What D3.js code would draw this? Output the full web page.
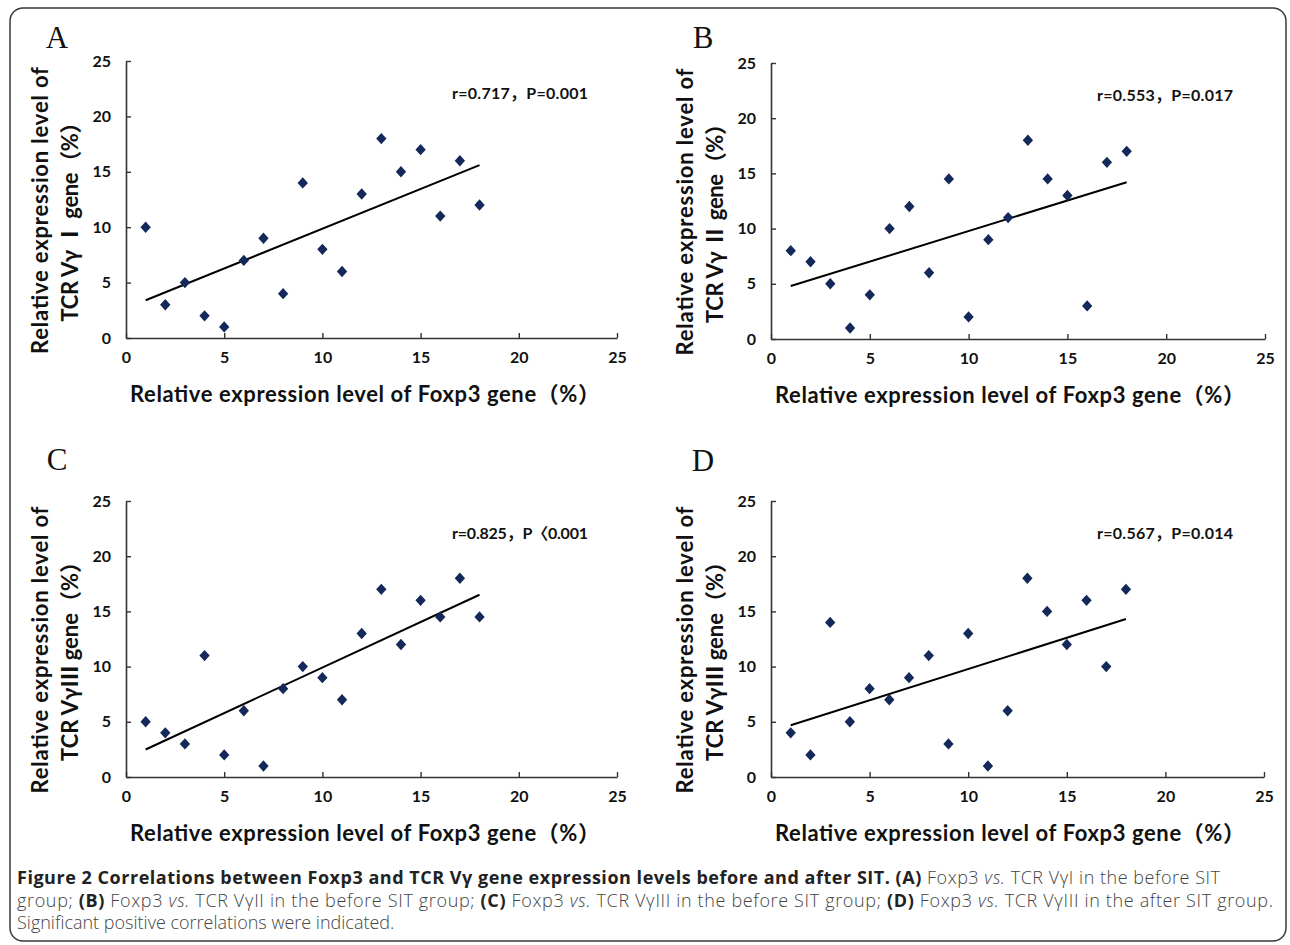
<!DOCTYPE html>
<html><head><meta charset="utf-8">
<script src="https://cdn.jsdelivr.net/npm/d3@7"></script>
<style>
body{margin:0;background:#fff}
svg{display:block}
.chartText{font-family:Lato,"Noto Sans CJK SC",sans-serif;font-weight:700;fill:#111}
.cap{font-family:"Open Sans","Noto Sans",sans-serif;font-size:18px}
</style>
</head><body>
<svg id="c" width="1290" height="945"></svg>
<script>
// ---- data ----
const foxp3 = [1,2,3,4,5,6,7,8,9,10,11,12,13,14,15,16,17,18];
const vg1Before = [10,3,5,2,1,7,9,4,14,8,6,13,18,15,17,11,16,12];
const vg2Before = [8,7,5,1,4,10,12,6,14.5,2,9,11,18,14.5,13,3,16,17];
const vg3Before = [5,4,3,11,2,6,1,8,10,9,7,13,17,12,16,14.5,18,14.5];
const vg3After  = [4,2,14,5,8,7,9,11,3,13,1,6,18,15,12,16,10,17];
const axisTicks = [0,5,10,15,20,25];
const panelLetters = ["A","B","C","D"];
const yTitleLine1 = "Relative expression level of";
const yTitleLine2 = ["TCR Vγ Ⅰ gene（%）","TCR Vγ Ⅱ gene（%）","TCR VγⅢ gene（%）","TCR VγⅢ gene（%）"];
const xTitle = "Relative expression level of Foxp3 gene（%）";
const statLabels = ["r=0.717，P=0.001","r=0.553，P=0.017","r=0.825，P〈0.001","r=0.567，P=0.014"];
const seriesList = [vg1Before, vg2Before, vg3Before, vg3After];

// ---- layout ----
const layout = [
  {ox:126, top:61,  bottom:338, right:617,  lx:57,  ly:48},
  {ox:771, top:63,  bottom:339, right:1265, lx:703, ly:48},
  {ox:126, top:501, bottom:777, right:617,  lx:57,  ly:470},
  {ox:771, top:501, bottom:777, right:1264, lx:703, ly:471}
];

const svg = d3.select("#c");

// border
svg.append("rect").attr("x",10).attr("y",8).attr("width",1276).attr("height",933)
  .attr("rx",13).attr("fill","none").attr("stroke","#3a3a3a").attr("stroke-width",1.5);

function regression(xs, ys){
  const mx = d3.mean(xs), my = d3.mean(ys);
  let sxy=0, sxx=0;
  xs.forEach((x,i)=>{ sxy += (x-mx)*(ys[i]-my); sxx += (x-mx)*(x-mx); });
  const b = sxy/sxx, a = my - b*mx;
  return x => a + b*x;
}

const diamond = d3.symbol().type(d3.symbolDiamond2).size(68);

seriesList.forEach((ys, pi) => {
  const L = layout[pi];
  const x = d3.scaleLinear().domain([0,25]).range([L.ox, L.right]);
  const y = d3.scaleLinear().domain([0,25]).range([L.bottom, L.top]);
  const g = svg.append("g");

  // panel letter
  g.append("text").attr("x",L.lx).attr("y",L.ly).attr("text-anchor","middle")
    .style("font-family","'Liberation Serif','DejaVu Serif',serif").style("font-size","31px").attr("fill","#111")
    .text(panelLetters[pi]);

  // axes
  const xAxis = d3.axisBottom(x).tickValues(axisTicks).tickSizeInner(-5).tickSizeOuter(0).tickPadding(14);
  const yAxis = d3.axisLeft(y).tickValues(axisTicks).tickSizeInner(-5).tickSizeOuter(0).tickPadding(15);
  const gx = g.append("g").attr("transform",`translate(0,${L.bottom})`).call(xAxis);
  const gy = g.append("g").attr("transform",`translate(${L.ox},0)`).call(yAxis);
  [gx,gy].forEach(a=>{
    a.select(".domain").attr("stroke","#333").attr("stroke-width",1.6);
    a.selectAll(".tick line").attr("stroke","#333").attr("stroke-width",1.4);
    a.selectAll(".tick text").attr("class","chartText").style("font-size","16px").attr("fill","#111");
  });
  gx.selectAll(".tick text").attr("dy","0.71em");

  // regression line
  const f = regression(foxp3, ys);
  const x0 = d3.min(foxp3), x1 = d3.max(foxp3);
  g.append("line").attr("x1",x(x0)).attr("y1",y(f(x0))).attr("x2",x(x1)).attr("y2",y(f(x1)))
    .attr("stroke","#000").attr("stroke-width",2);

  // points
  g.selectAll("path.pt").data(foxp3.map((v,i)=>[v,ys[i]])).join("path").attr("class","pt")
    .attr("d",diamond).attr("transform",d=>`translate(${x(d[0])},${y(d[1])}) scale(1,1.1)`)
    .attr("fill","#14285a");

  // stat label
  g.append("text").attr("class","chartText").attr("x",L.ox+326).attr("y",L.top+38)
    .style("font-size","16px").attr("textLength",136).text(statLabels[pi]);

  // x title
  g.append("text").attr("class","chartText").attr("x",L.ox+4).attr("y",L.bottom+64)
    .style("font-size","22px").attr("textLength",470).text(xTitle);

  // y title (two lines)
  const mid = (L.top+L.bottom)/2;
  g.append("text").attr("class","chartText").attr("text-anchor","middle")
    .attr("transform",`translate(${L.ox-78},${mid+11}) rotate(-90)`)
    .style("font-size","22px").attr("textLength",287).text(yTitleLine1);
  g.append("text").attr("class","chartText").attr("text-anchor","middle")
    .attr("transform",`translate(${L.ox-48},${mid+17}) rotate(-90)`)
    .style("font-size","22px").attr("textLength",210).text(yTitleLine2[pi]);
});

// caption
const capLines = [
  [{t:"Figure 2 Correlations between Foxp3 and TCR Vγ gene expression levels before and after SIT. ",b:1},
   {t:"(A)",b:1},{t:" Foxp3 "},{t:"vs.",i:1},{t:" TCR VγI in the before SIT"}],
  [{t:"group; "},{t:"(B)",b:1},{t:" Foxp3 "},{t:"vs.",i:1},{t:" TCR VγII in the before SIT group; "},
   {t:"(C)",b:1},{t:" Foxp3 "},{t:"vs.",i:1},{t:" TCR VγIII in the before SIT group; "},
   {t:"(D)",b:1},{t:" Foxp3 "},{t:"vs.",i:1},{t:" TCR VγIII in the after SIT group."}],
  [{t:"Significant positive correlations were indicated."}]
];
const capLen = [1203, 1256, null];
capLines.forEach((segs, li) => {
  const t = svg.append("text").attr("class","cap").attr("x",17).attr("y",884 + li*22.5)
    .attr("xml:space","preserve");
  if (capLen[li]) t.attr("textLength",capLen[li]);
  segs.forEach(s => {
    t.append("tspan").text(s.t)
      .attr("font-weight", s.b ? 700 : 300)
      .attr("font-style", s.i ? "italic" : "normal")
      .attr("fill", s.b ? "#222" : "#444");
  });
});
</script>
</body></html>
